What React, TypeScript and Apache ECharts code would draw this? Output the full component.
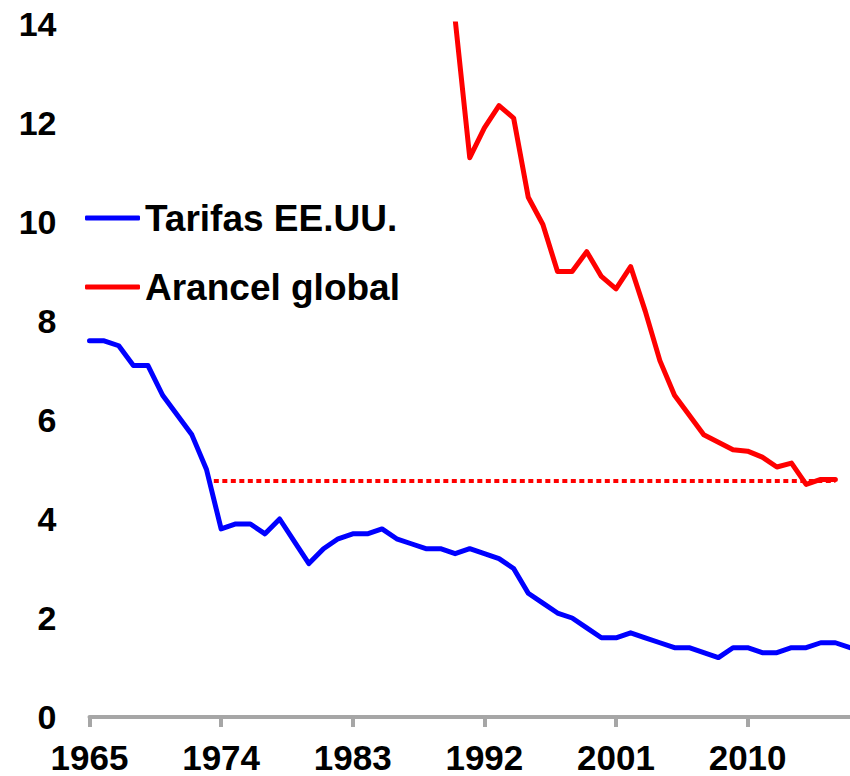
import React, { useEffect, useRef } from "react";
import * as echarts from "echarts";

const FIRST_YEAR = 1965;
const LAST_YEAR = 2017;
const years: string[] = Array.from({ length: LAST_YEAR - FIRST_YEAR + 1 }, (_, i) => String(FIRST_YEAR + i));

// Tarifas EE.UU. 1965–2017
const usTariff: number[] = [
  7.6, 7.6, 7.5, 7.1, 7.1, 6.5, 6.1, 5.7, 5.0, 3.8,
  3.9, 3.9, 3.7, 4.0, 3.55, 3.1, 3.4, 3.6, 3.7, 3.7,
  3.8, 3.6, 3.5, 3.4, 3.4, 3.3, 3.4, 3.3, 3.2, 3.0,
  2.5, 2.3, 2.1, 2.0, 1.8, 1.6, 1.6, 1.7, 1.6, 1.5,
  1.4, 1.4, 1.3, 1.2, 1.4, 1.4, 1.3, 1.3, 1.4, 1.4,
  1.5, 1.5, 1.4,
];

// Arancel global 1990–2016
const GLOBAL_START = 1990;
const globalTariff: number[] = [
  14.1, 11.3, 11.9, 12.35, 12.1, 10.5, 9.95, 9.0, 9.0, 9.4,
  8.9, 8.65, 9.1, 8.2, 7.2, 6.5, 6.1, 5.7, 5.55, 5.4,
  5.37, 5.25, 5.05, 5.13, 4.7, 4.8, 4.8,
];

// dotted reference level
const dottedFrom = 1973.5;
const dottedTo = 2016;
const dottedLevel = 4.77;

const yTicks = { min: 0, max: 14, interval: 2 };

const FONT = 'Arial, "Liberation Sans", sans-serif';

export default function App() {
  const ref = useRef<HTMLDivElement>(null);
  useEffect(() => {
    if (!ref.current) return;
    const chart = echarts.init(ref.current, null, { renderer: "svg" });
    const globalSeries = years.map((y) => {
      const idx = Number(y) - GLOBAL_START;
      return idx >= 0 && idx < globalTariff.length ? globalTariff[idx] : null;
    });
    chart.setOption({
      animation: false,
      textStyle: { fontFamily: FONT },
      grid: { left: 89.5, right: -4, top: 24, bottom: 59, containLabel: false },
      legend: {
        data: ["Tarifas EE.UU.", "Arancel global"],
        orient: "vertical",
        left: 80,
        top: 193,
        icon: "roundRect",
        itemWidth: 55,
        itemHeight: 5,
        itemGap: 29,
        textStyle: { fontSize: 37, fontWeight: "bold", color: "#000", fontFamily: FONT, lineHeight: 40 },
      },
      xAxis: [
        {
          type: "category",
          data: years,
          boundaryGap: false,
          axisLine: { show: true, lineStyle: { color: "#a6a6a6", width: 4 } },
          axisTick: { show: true, interval: 8, length: 10, lineStyle: { color: "#a6a6a6", width: 4 } },
          axisLabel: {
            interval: 8,
            fontSize: 35,
            fontWeight: "bold",
            color: "#000",
            margin: 23,
            fontFamily: FONT,
          },
          splitLine: { show: false },
        },
        {
          type: "value",
          min: FIRST_YEAR,
          max: LAST_YEAR,
          show: false,
          splitLine: { show: false },
        },
      ],
      yAxis: {
        type: "value",
        min: yTicks.min,
        max: yTicks.max,
        interval: yTicks.interval,
        axisLine: { show: false },
        axisTick: { show: false },
        splitLine: { show: false },
        axisLabel: { fontSize: 34, fontWeight: "bold", color: "#000", margin: 33, fontFamily: FONT },
      },
      series: [
        {
          name: "Tarifas EE.UU.",
          type: "line",
          data: usTariff,
          symbol: "none",
          color: "#0000ff",
          lineStyle: { color: "#0000ff", width: 5, cap: "round", join: "round" },
        },
        {
          name: "Arancel global",
          type: "line",
          data: globalSeries,
          symbol: "none",
          color: "#ff0000",
          lineStyle: { color: "#ff0000", width: 5, cap: "round", join: "round" },
        },
        {
          name: "nivel",
          type: "line",
          xAxisIndex: 1,
          data: [
            [dottedFrom, dottedLevel],
            [dottedTo, dottedLevel],
          ],
          symbol: "none",
          color: "#ff0000",
          lineStyle: { color: "#ff0000", width: 4, type: [5, 3.5] },
        },
      ],
    });
    return () => chart.dispose();
  }, []);
  return (
    <div
      ref={ref}
      style={{ position: "absolute", left: 0, top: 0, width: 850, height: 776, background: "#fff" }}
    />
  );
}
